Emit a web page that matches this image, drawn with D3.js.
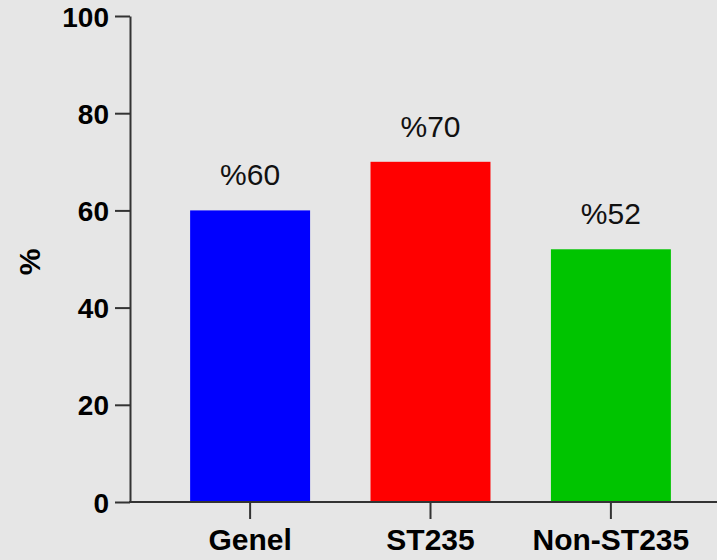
<!DOCTYPE html>
<html><head><meta charset="utf-8">
<script src="https://cdn.jsdelivr.net/npm/d3@7"></script>
<style>html,body{margin:0;padding:0;background:#e6e6e6;}svg{display:block;}</style>
</head><body>
<script>
const categories = ["Genel", "ST235", "Non-ST235"];
const values = [60, 70, 52];
const valueLabels = ["%60", "%70", "%52"];
const colors = ["#0000ff", "#ff0000", "#00c400"];
const yTicks = [0, 20, 40, 60, 80, 100];

const W = 717, H = 560;
const svg = d3.select("body").append("svg").attr("width", W).attr("height", H);
svg.append("rect").attr("width", W).attr("height", H).attr("fill", "#e6e6e6");

const x0 = 130, y0 = 502, yTop = 16;
const y = d3.scaleLinear().domain([0, 100]).range([y0, yTop]);
const x = d3.scaleBand().domain(categories).range([160, 701]).paddingInner(0.335).paddingOuter(0.167);

const axisColor = "#333";
// Y axis
const yAxis = svg.append("g").attr("transform", `translate(${x0},0)`)
  .call(d3.axisLeft(y).tickValues(yTicks).tickSize(15).tickPadding(6).tickSizeOuter(0));
yAxis.select(".domain").attr("stroke", axisColor).attr("stroke-width", 2);
yAxis.selectAll(".tick line").attr("stroke", axisColor).attr("stroke-width", 2);
yAxis.selectAll(".tick text").attr("font-family", "Liberation Sans, Arial, sans-serif")
  .attr("font-size", 28).attr("font-weight", "bold").attr("fill", "#000").attr("dy", "0.36em");

// Bars
svg.selectAll("rect.bar").data(values).join("rect").attr("class", "bar")
  .attr("x", (d, i) => x(categories[i]))
  .attr("width", x.bandwidth())
  .attr("y", d => y(d))
  .attr("height", d => y(0) - y(d))
  .attr("fill", (d, i) => colors[i]);

// X axis line
svg.append("line").attr("x1", x0 - 1).attr("x2", W).attr("y1", y0).attr("y2", y0)
  .attr("stroke", axisColor).attr("stroke-width", 2);
const xAxis = svg.append("g").attr("transform", `translate(0,${y0})`)
  .call(d3.axisBottom(x).tickSize(17).tickPadding(7).tickSizeOuter(0));
xAxis.select(".domain").remove();
xAxis.selectAll(".tick line").attr("stroke", axisColor).attr("stroke-width", 2);
xAxis.selectAll(".tick text").attr("font-family", "Liberation Sans, Arial, sans-serif")
  .attr("font-size", 30).attr("font-weight", "bold").attr("fill", "#000").attr("dy", "0.8em");

// Value labels
svg.selectAll("text.val").data(values).join("text").attr("class", "val")
  .attr("x", (d, i) => x(categories[i]) + x.bandwidth() / 2)
  .attr("y", d => y(d) - 25)
  .attr("text-anchor", "middle")
  .attr("font-family", "Liberation Sans, Arial, sans-serif")
  .attr("font-size", 30).attr("fill", "#111")
  .text((d, i) => valueLabels[i]);

// Y label
svg.append("text").attr("transform", "translate(40,262) rotate(-90)")
  .attr("text-anchor", "middle")
  .attr("font-family", "Liberation Sans, Arial, sans-serif")
  .attr("font-size", 30).attr("font-weight", "bold").attr("fill", "#000")
  .text("%");
</script>
</body></html>
